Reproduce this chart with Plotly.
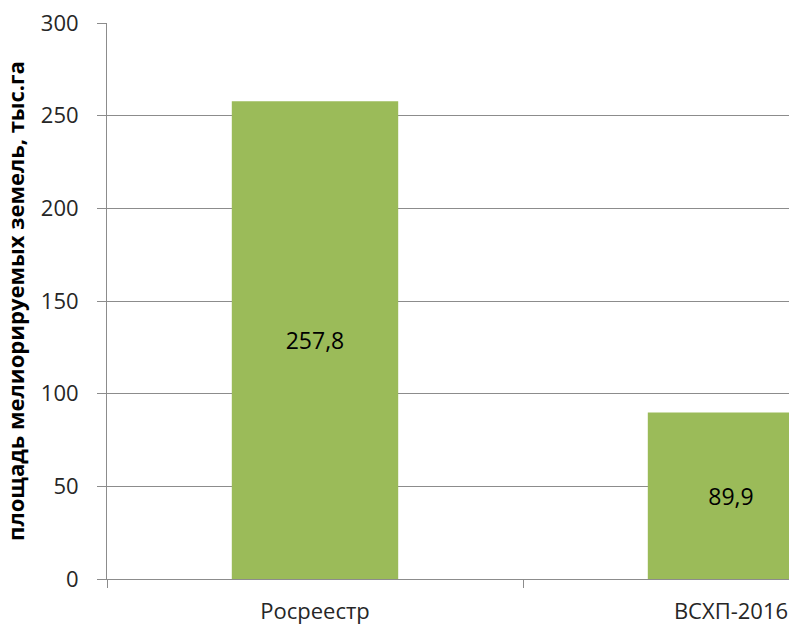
import plotly.graph_objects as go

categories = ["Росреестр", "ВСХП-2016"]
values = [257.8, 89.9]
value_labels = ["257,8", "89,9"]
y_title = "площадь мелиорируемых земель, тыс.га"

BAR = "#9BBB59"
GRID = "#8C8C8C"
FONT = "Open Sans, DejaVu Sans, sans-serif"

fig = go.Figure(go.Bar(
    x=categories, y=values, text=value_labels,
    textposition="inside", insidetextanchor="middle",
    textfont=dict(size=23, color="#000000", family=FONT),
    marker=dict(color=BAR, line=dict(width=0)),
    width=0.4,
))

fig.update_layout(
    width=789, height=624,
    margin=dict(l=107, r=0, t=23, b=45),
    paper_bgcolor="white", plot_bgcolor="white",
    showlegend=False,
    font=dict(family=FONT, size=22, color="#262626"),
)
fig.update_xaxes(
    type="category", range=[-0.5, (789 - 107) / 416 - 0.5],
    tickson="boundaries", ticks="outside", ticklen=8, tickcolor=GRID,
    showline=True, linecolor=GRID, linewidth=1, showgrid=False,
    tickfont=dict(size=22, color="#262626"),
    ticklabelstandoff=13, ticklabeloverflow="allow",
)
fig.update_yaxes(
    range=[0, 300], dtick=50, ticks="outside", ticklen=9, tickcolor=GRID,
    showline=True, linecolor=GRID, linewidth=1,
    showgrid=True, gridcolor=GRID, gridwidth=1, zeroline=False,
    tickfont=dict(size=22, color="#262626"),
    ticklabelstandoff=14, ticklabeloverflow="allow",
    title=dict(text="<b>" + y_title + "</b>", font=dict(size=22, color="#000000"), standoff=10),
)

fig.write_html(
    "out.html",
    config={"displayModeBar": False},
    post_script="document.body.style.margin='0';document.body.style.overflow='hidden';",
)
